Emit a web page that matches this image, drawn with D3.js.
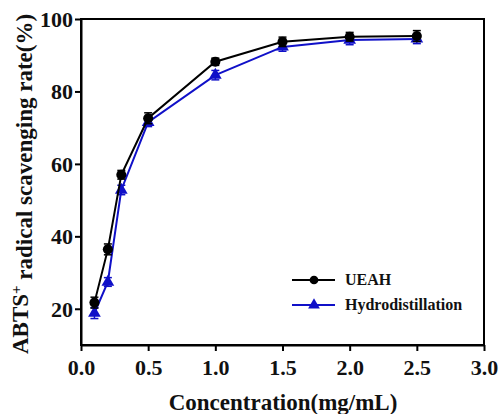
<!DOCTYPE html>
<html>
<head>
<meta charset="utf-8">
<script src="https://cdn.jsdelivr.net/npm/d3@7"></script>
</head>
<body style="margin:0">
<div id="chart"></div>
<script>
var svgWidth = 500;
var svgHeight = 414;
var fontFamily = "Liberation Serif";

var margin = { top: 19, right: 16, bottom: 70, left: 81 };
var width = 484 - margin.left;
var height = 345 - margin.top;

// data
var concentrations = [0.1, 0.2, 0.3, 0.5, 1.0, 1.5, 2.0, 2.5];
var ueahValues = [21.7, 36.4, 57.0, 72.6, 88.2, 93.7, 95.1, 95.3];
var ueahErrors = [1.5, 1.5, 1.2, 1.5, 1.0, 1.3, 1.2, 1.5];
var hydroValues = [18.8, 27.4, 52.8, 71.5, 84.5, 92.3, 94.2, 94.5];
var hydroErrors = [1.5, 1.2, 1.3, 1.2, 1.3, 1.2, 1.3, 1.3];
var xTicks = [0.0, 0.5, 1.0, 1.5, 2.0, 2.5, 3.0];
var yTicks = [20, 40, 60, 80, 100];

var series = [
  { name: "UEAH", values: ueahValues, errors: ueahErrors, color: "#000000", marker: d3.symbolCircle },
  { name: "Hydrodistillation", values: hydroValues, errors: hydroErrors, color: "#1010c8", marker: d3.symbolTriangle }
];

var svg = d3.select("#chart")
  .append("svg")
  .attr("width", svgWidth)
  .attr("height", svgHeight)
  .attr("font-family", fontFamily)
  .attr("font-weight", "bold");

// small helper so every text gets the same font
function serif(sel, size) {
  return sel.attr("font-family", fontFamily)
    .style("font-family", `"${fontFamily}"`)
    .style("font-weight", "bold")
    .style("font-size", size + "px");
}

var chartGroup = svg.append("g")
  .attr("transform", `translate(${margin.left}, ${margin.top})`);

var xScale = d3.scaleLinear().domain([0, 3]).range([0, width]);
var yScale = d3.scaleLinear().domain([10, 100]).range([height, 0]);

// frame
chartGroup.append("rect")
  .attr("width", width)
  .attr("height", height)
  .attr("fill", "none")
  .attr("stroke", "#000")
  .attr("stroke-width", 2);

var bottomAxis = d3.axisBottom(xScale).tickValues(xTicks).tickFormat(d3.format(".1f")).tickSize(6).tickSizeOuter(0);
var leftAxis = d3.axisLeft(yScale).tickValues(yTicks).tickSize(6).tickSizeOuter(0);

var xAxis = chartGroup.append("g")
  .attr("transform", `translate(0, ${height})`)
  .call(bottomAxis);

var yAxis = chartGroup.append("g")
  .call(leftAxis);

[xAxis, yAxis].forEach(function(ax) {
  ax.attr("font-family", fontFamily);
  ax.select(".domain").attr("stroke-width", 2);
  ax.selectAll(".tick line").attr("stroke-width", 2);
  serif(ax.selectAll(".tick text"), 22).attr("fill", "#111");
});
xAxis.selectAll(".tick text").attr("y", 8).attr("dy", "1.0em");
yAxis.selectAll(".tick text").attr("x", -8).attr("dy", "0.34em");

// draw series (blue under black)
series.slice().reverse().forEach(function(s) {
  var pts = concentrations.map(function(c, i) {
    return { x: c, y: s.values[i], e: s.errors[i] };
  });
  var line = d3.line().x(d => xScale(d.x)).y(d => yScale(d.y));
  var g = chartGroup.append("g");

  g.append("path")
    .datum(pts)
    .attr("d", line)
    .attr("fill", "none")
    .attr("stroke", s.color)
    .attr("stroke-width", 2);

  var err = g.selectAll(".err")
    .data(pts)
    .enter()
    .append("g");
  err.append("line")
    .attr("x1", d => xScale(d.x)).attr("x2", d => xScale(d.x))
    .attr("y1", d => yScale(d.y - d.e)).attr("y2", d => yScale(d.y + d.e))
    .attr("stroke", s.color).attr("stroke-width", 1.5);
  [-1, 1].forEach(function(sign) {
    err.append("line")
      .attr("x1", d => xScale(d.x) - 4).attr("x2", d => xScale(d.x) + 4)
      .attr("y1", d => yScale(d.y + sign * d.e)).attr("y2", d => yScale(d.y + sign * d.e))
      .attr("stroke", s.color).attr("stroke-width", 1.5);
  });

  g.selectAll(".mark")
    .data(pts)
    .enter()
    .append("path")
    .attr("d", d3.symbol().type(s.marker).size(s.marker === d3.symbolCircle ? 80 : 70))
    .attr("transform", d => `translate(${xScale(d.x)}, ${yScale(d.y)})`)
    .attr("fill", s.color);
});

// legend
var legend = chartGroup.append("g")
  .attr("transform", "translate(211, 261)");
series.forEach(function(s, i) {
  var row = legend.append("g").attr("transform", `translate(0, ${i * 25})`);
  row.append("line")
    .attr("x1", 0).attr("x2", 43)
    .attr("stroke", s.color).attr("stroke-width", 2);
  row.append("path")
    .attr("d", d3.symbol().type(s.marker).size(60))
    .attr("transform", "translate(22, 0)")
    .attr("fill", s.color);
  serif(row.append("text"), 16)
    .attr("x", 53)
    .attr("dy", "0.34em")
    .attr("fill", "#111")
    .text(s.name);
});

// axis titles
serif(svg.append("text"), 23)
  .attr("x", 283)
  .attr("y", 410)
  .attr("text-anchor", "middle")
  .attr("fill", "#111")
  .text("Concentration(mg/mL)");

var yTitle = serif(svg.append("text"), 23)
  .attr("transform", `translate(28, 184) rotate(-90)`)
  .attr("text-anchor", "middle")
  .attr("fill", "#111");
yTitle.append("tspan").text("ABTS");
yTitle.append("tspan").attr("dy", "-0.45em").style("font-size", "15px").text("+");
yTitle.append("tspan").attr("dy", "0.45em").text(" radical scavenging rate(%)");
</script>
</body>
</html>
